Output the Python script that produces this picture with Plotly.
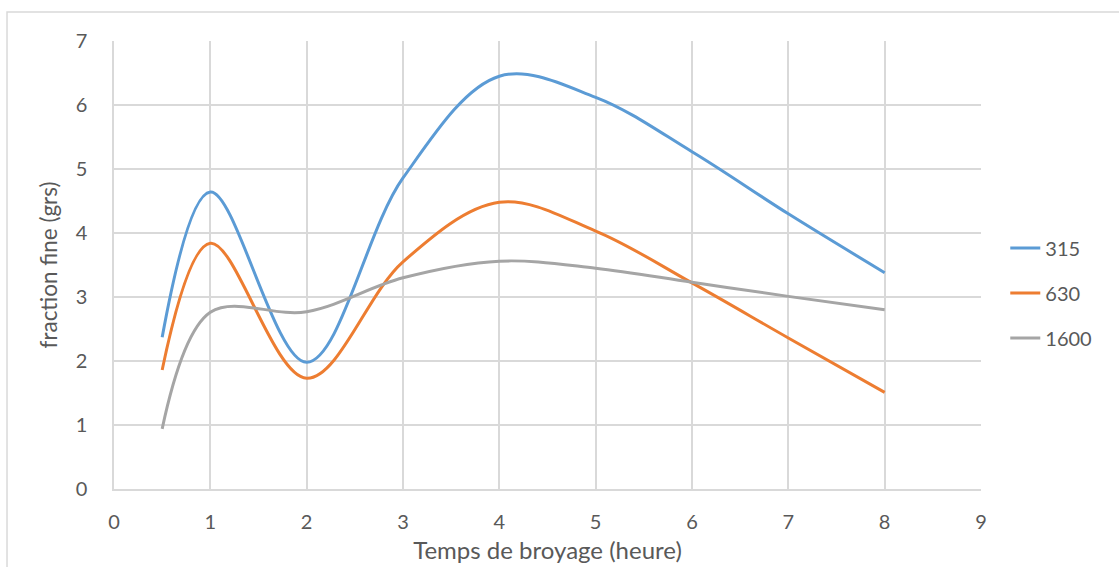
import plotly.graph_objects as go

x_hours = [0.5, 1, 2, 3, 4, 5, 6, 7, 8]
s315 = [2.37, 4.64, 1.98, 4.86, 6.45, 6.12, 5.27, 4.30, 3.38]
s630 = [1.86, 3.84, 1.73, 3.55, 4.48, 4.03, 3.22, 2.36, 1.51]
s1600 = [0.94, 2.76, 2.77, 3.30, 3.56, 3.45, 3.23, 3.01, 2.80]
names = ["315", "630", "1600"]
colors = ["#5B9BD5", "#ED7D31", "#A5A5A5"]

fig = go.Figure()
for i, (nm, ys) in enumerate(zip(names, [s315, s630, s1600])):
    fig.add_trace(go.Scatter(
        x=x_hours, y=ys, name=nm, mode="lines",
        line=dict(color=colors[i], width=3, shape="spline", smoothing=1.0),
        legendgroup=nm,
    ))

font_family = "Lato, 'Open Sans', sans-serif"
txt = "#595959"
grid = "#D9D9D9"

fig.update_layout(
    width=1119, height=567,
    margin=dict(l=114, r=138, t=41, b=78, autoexpand=False),
    paper_bgcolor="white", plot_bgcolor="white",
    font=dict(family=font_family, color=txt, size=20),
    showlegend=True,
    legend=dict(x=1.028, y=0.4375, xanchor="left", yanchor="middle",
                font=dict(size=20, color=txt), tracegroupgap=16,
                traceorder="grouped", bgcolor="rgba(0,0,0,0)"),
    xaxis=dict(range=[0, 9], dtick=1, tick0=0, showgrid=True, gridcolor=grid, gridwidth=1.5,
               zeroline=False, showline=True, linecolor=grid, linewidth=1.5,
               ticks="outside", ticklen=14, tickcolor="rgba(0,0,0,0)",
               tickfont=dict(size=20, color=txt), automargin=False,
               title=dict(text="Temps de broyage (heure)", font=dict(size=24, color=txt), standoff=10)),
    yaxis=dict(range=[0, 7], dtick=1, tick0=0, showgrid=True, gridcolor=grid, gridwidth=1.5,
               zeroline=False, showline=True, linecolor=grid, linewidth=1.5,
               ticks="outside", ticklen=21, tickcolor="rgba(0,0,0,0)",
               tickfont=dict(size=20, color=txt), automargin=False,
               title=dict(text="fraction fine (grs)", font=dict(size=22.5, color=txt), standoff=12)),
    shapes=[dict(type="rect", xref="paper", yref="paper",
                 x0=-0.1234, y0=-0.3, x1=1.2, y1=1.0647,
                 line=dict(color=grid, width=1.5), fillcolor="rgba(0,0,0,0)", layer="below")],
)

fig.write_html("out.html", config={"displayModeBar": False},
               post_script="document.body.style.margin='0';")
